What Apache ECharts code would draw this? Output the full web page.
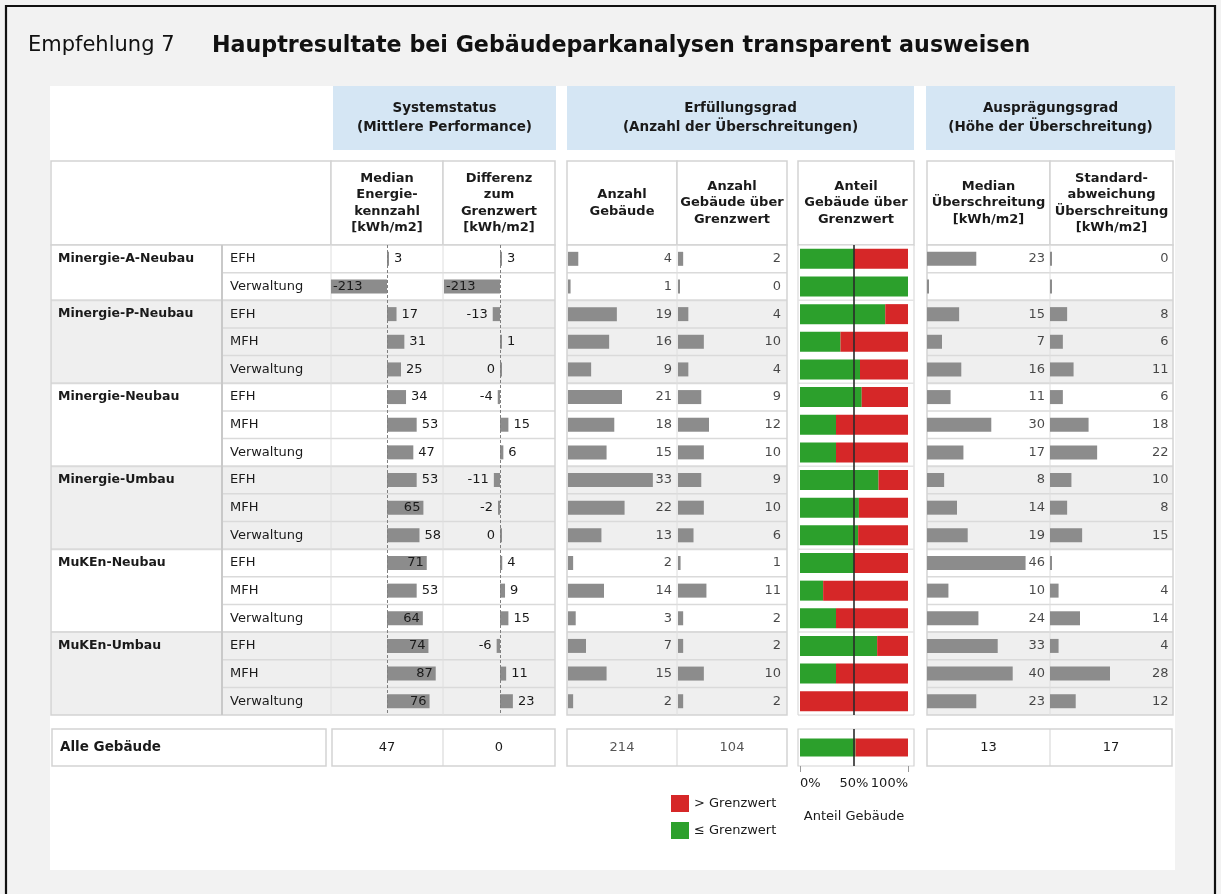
<!DOCTYPE html>
<html><head><meta charset="utf-8">
<script src="https://cdn.jsdelivr.net/npm/echarts@6/dist/echarts.min.js"></script>
<style>html,body{margin:0;padding:0;background:#f2f2f2}#c{width:1221px;height:894px}</style>
</head><body><div id="c"></div>
<script>
// ---------------- data ----------------
const groups = ['Minergie-A-Neubau','Minergie-P-Neubau','Minergie-Neubau','Minergie-Umbau','MuKEn-Neubau','MuKEn-Umbau'];
const groupSizes = [2,3,3,3,3,3];
const buildingTypes = ['EFH','Verwaltung','EFH','MFH','Verwaltung','EFH','MFH','Verwaltung','EFH','MFH','Verwaltung','EFH','MFH','Verwaltung','EFH','MFH','Verwaltung'];
const medianEnergie = [3,-213,17,31,25,34,53,47,53,65,58,71,53,64,74,87,76];
const differenz = [3,-213,-13,1,0,-4,15,6,-11,-2,0,4,9,15,-6,11,23];
const anzahlGebaeude = [4,1,19,16,9,21,18,15,33,22,13,2,14,3,7,15,2];
const anzahlUeber = [2,0,4,10,4,9,12,10,9,10,6,1,11,2,2,10,2];
const medianUeberschreitung = [23,null,15,7,16,11,30,17,8,14,19,46,10,24,33,40,23];
const stdUeberschreitung = [0,null,8,6,11,6,18,22,10,8,15,null,4,14,4,28,12];
const totalLabel = 'Alle Gebäude';
const totals = [47,0,214,104,13,17];
const shareTickValues = [0,50,100];
const legendNames = ['> Grenzwert','≤ Grenzwert'];
const titleLeft = 'Empfehlung 7';
const titleMain = 'Hauptresultate bei Gebäudeparkanalysen transparent ausweisen';
const blockTitles = ['Systemstatus\n(Mittlere Performance)','Erfüllungsgrad\n(Anzahl der Überschreitungen)','Ausprägungsgrad\n(Höhe der Überschreitung)'];
const columnTitles = ['Median\nEnergie-\nkennzahl\n[kWh/m2]','Differenz\nzum\nGrenzwert\n[kWh/m2]','Anzahl\nGebäude','Anzahl\nGebäude über\nGrenzwert','Anteil\nGebäude über\nGrenzwert','Median\nÜberschreitung\n[kWh/m2]','Standard-\nabweichung\nÜberschreitung\n[kWh/m2]'];

// ---------------- style / layout ----------------
const FONT = '"DejaVu Sans", Verdana, sans-serif';
const BAR = '#8c8c8c', GREEN = '#2ca02c', RED = '#d62728';
const BORDER = '#d3d3d3', SEP = '#dadada', TXT = '#1a1a1a';
const TOP = 245, RH = 27.65, N = buildingTypes.length, GH = N * RH;

const cols = [
  {left:331, width:112, min:-100, max:100},
  {left:444, width:112, min:-100, max:100},
  {left:568, width:108, min:0, max:42},
  {left:678, width:106, min:0, max:41},
  {left:800, width:108, min:0, max:100},
  {left:927, width:120, min:0, max:56},
  {left:1050, width:120, min:0, max:56}
];

const firstRows = []; { let a = 0; groupSizes.forEach(s => { firstRows.push(a); a += s; }); }
const groupAxisLabels = buildingTypes.map((_, i) => { const g = firstRows.indexOf(i); return g >= 0 ? groups[g] : ''; });

const shareBelow = anzahlGebaeude.map((n, i) => (n - anzahlUeber[i]) / n * 100);
const shareAbove = shareBelow.map(s => 100 - s);
const totalBelow = (totals[2] - totals[3]) / totals[2] * 100;

// ---------------- graphic (table frame & texts) ----------------
const G = [];
function rect(x,y,w,h,fill,stroke,lw,z){ G.push({type:'rect', silent:true, z:z||0, shape:{x,y,width:w,height:h}, style:{fill:fill||'none', stroke:stroke||null, lineWidth:lw||0}}); }
function line(x1,y1,x2,y2,stroke,lw){ G.push({type:'line', silent:true, z:1, shape:{x1,y1,x2,y2}, style:{stroke, lineWidth:lw}}); }
function text(x,y,t,o){ G.push({type:'text', silent:true, z:5, x, y, style:Object.assign({text:t, fill:TXT, fontSize:13, fontFamily:FONT, align:'center', verticalAlign:'middle'}, o||{})}); }

rect(6,6,1209,940,'none','#111',2.2,6);
rect(50,86,1125,784,'#ffffff');
text(28,46,titleLeft,{align:'left', fontSize:21, fill:'#111'});
text(212,46,titleMain,{align:'left', fontSize:22.2, fontWeight:'bold', fill:'#111'});

const blueBoxes = [[333,223],[567,347],[926,249]];
blueBoxes.forEach((b,i) => { rect(b[0],86,b[1],64,'#d5e6f4'); text(b[0]+b[1]/2,118,blockTitles[i],{fontWeight:'bold', fontSize:13.5, lineHeight:19}); });

const headBoxes = [[51,280],[331,112],[443,112],[567,110],[677,110],[798,116],[927,123],[1050,123]];
headBoxes.forEach((b,i) => {
  rect(b[0],161,b[1],84,'#ffffff',BORDER,1.5);
  if (i > 0) text(b[0]+b[1]/2,203,columnTitles[i-1],{fontWeight:'bold', fontSize:13, lineHeight:16.5});
});

// row backgrounds
groupSizes.forEach((s,g) => {
  const y0 = TOP + firstRows[g]*RH, h = s*RH, fill = g % 2 ? '#efefef' : '#ffffff';
  rect(51,y0,504,h,fill); rect(567,y0,220,h,fill); rect(927,y0,246,h,fill);
});
rect(798,TOP,116,GH,'#ffffff',BORDER,1);
for (let i = 1; i < N; i++) {
  const y = TOP + i*RH;
  if (firstRows.indexOf(i) >= 0) {
    line(51,y,555,y,SEP,2); line(567,y,787,y,SEP,2); line(927,y,1173,y,SEP,2); line(798,y,914,y,'#e4e4e4',1.5);
  } else {
    line(222,y,555,y,SEP,1.5); line(567,y,787,y,SEP,1.5); line(927,y,1173,y,SEP,1.5);
  }
}
rect(51,TOP,504,GH,'none',BORDER,1.5,1); rect(567,TOP,220,GH,'none',BORDER,1.5,1); rect(927,TOP,246,GH,'none',BORDER,1.5,1);
line(222,TOP,222,TOP+GH,'#c9c9c9',2);
line(331,TOP,331,TOP+GH,'#dedede',1); line(443,TOP,443,TOP+GH,'#dedede',1);
line(677,TOP,677,TOP+GH,'#dedede',1); line(1050,TOP,1050,TOP+GH,'#dedede',1);

// totals row
const TY = 729, TH = 37, TC = TY + TH/2;
rect(52,TY,274,TH,'#ffffff',BORDER,1.5); text(60,TC,totalLabel,{align:'left', fontWeight:'bold', fontSize:13.5});
rect(332,TY,223,TH,'#ffffff',BORDER,1.5); line(443,TY,443,TY+TH,BORDER,1);
rect(567,TY,220,TH,'#ffffff',BORDER,1.5); line(677,TY,677,TY+TH,BORDER,1);
rect(798,TY,116,TH,'#ffffff',BORDER,1.2);
rect(927,TY,245,TH,'#ffffff',BORDER,1.5); line(1050,TY,1050,TY+TH,BORDER,1);
const totalPos = [387,499,622,732,988.5,1111];
const totalColors = [TXT,TXT,'#555','#555',TXT,TXT];
totals.forEach((v,i) => text(totalPos[i],TC,String(v),{fill:totalColors[i]}));

// ---------------- echarts options ----------------
const labelText = {fontSize:13, color:TXT, fontFamily:FONT};
const grids = cols.map(c => ({left:c.left, top:TOP, width:c.width, height:GH, outerBoundsMode:'none'}));
grids.push({left:800, top:TY, width:108, height:TH, outerBoundsMode:'none'});

const xAxes = cols.map((c,i) => ({type:'value', gridIndex:i, min:c.min, max:c.max, show:false}));
xAxes.push({type:'value', gridIndex:7, min:0, max:100, interval:50,
  axisLine:{show:false}, splitLine:{show:false},
  axisTick:{show:true, length:6, lineStyle:{color:'#9a9a9a'}, customValues:[shareTickValues[0], shareTickValues[2]]},
  axisLabel:{margin:11, fontSize:13, color:TXT, fontFamily:FONT, formatter:'{value}%', alignMinLabel:'left', alignMaxLabel:'right', customValues:shareTickValues},
  name:'Anteil Gebäude', nameLocation:'middle', nameGap:44, nameTextStyle:{fontSize:13, color:TXT, fontFamily:FONT}});

const yAxes = cols.map((c,i) => ({type:'category', gridIndex:i, data:buildingTypes, inverse:true, show:false}));
yAxes[0] = {type:'category', gridIndex:0, position:'left', data:buildingTypes, inverse:true,
  axisLine:{show:false}, axisTick:{show:false}, splitLine:{show:false},
  axisLabel:{interval:0, align:'left', margin:101, fontSize:13, color:TXT, fontFamily:FONT}};
yAxes.push({type:'category', gridIndex:7, data:[totalLabel], show:false});
yAxes.push({type:'category', gridIndex:0, position:'left', data:groupAxisLabels, inverse:true,
  axisLine:{show:false}, axisTick:{show:false}, splitLine:{show:false},
  axisLabel:{interval:0, align:'left', margin:273, fontSize:12.5, fontWeight:'bold', color:TXT, fontFamily:FONT}});

function divLabel(v){
  let pos = 'right', dist = 5;
  if (v > 60) { pos = 'insideRight'; dist = 3; }
  else if (v < -150) { pos = 'insideLeft'; dist = 2; }
  else if (v <= 0) { pos = 'left'; }
  return {show:true, position:pos, distance:dist};
}
const zeroLine = {silent:true, symbol:['none','none'], label:{show:false}, animation:false,
  lineStyle:{type:[3,2], color:'#7f7f7f', width:1}, data:[{xAxis:0}]};

const series = [];
[[0,medianEnergie,'Median Energiekennzahl'],[1,differenz,'Differenz zum Grenzwert']].forEach(([gi,vals,name]) => {
  series.push({type:'bar', name, xAxisIndex:gi, yAxisIndex:gi, barWidth:14, barMinHeight:2, silent:true,
    itemStyle:{color:BAR}, label:Object.assign({show:true}, labelText),
    data: vals.map(v => ({value:v, label:divLabel(v)})), markLine:zeroLine});
});

function countSeries(gi, values, name, dist){
  const maxv = cols[gi].max;
  series.push({type:'bar', name, xAxisIndex:gi, yAxisIndex:gi, barWidth:14, barMinHeight:2, silent:true,
    itemStyle:{color:BAR}, data: values.map(v => v == null ? 0 : v)});
  series.push({type:'scatter', xAxisIndex:gi, yAxisIndex:gi, symbolSize:0, silent:true,
    itemStyle:{color:'rgba(0,0,0,0)'},
    label:Object.assign({show:true, position:'left', distance:dist}, labelText),
    data: values.map((v,i) => ({value:[maxv, i], label:{formatter: v == null ? '' : String(v)}}))});
}
countSeries(2, anzahlGebaeude, 'Anzahl Gebäude', 4);
countSeries(3, anzahlUeber, 'Anzahl Gebäude über Grenzwert', 3);
countSeries(5, medianUeberschreitung, 'Median Überschreitung', 2);
countSeries(6, stdUeberschreitung, 'Standardabweichung Überschreitung', 1.5);

const halfLine = {silent:true, symbol:['none','none'], label:{show:false}, animation:false,
  lineStyle:{type:'solid', color:'#2a2a2a', width:2, opacity:0.8}, data:[{xAxis:50}]};
series.push({type:'bar', name:legendNames[1], stack:'rows', xAxisIndex:4, yAxisIndex:4, barWidth:20, silent:true, itemStyle:{color:GREEN}, data:shareBelow});
series.push({type:'bar', name:legendNames[0], stack:'rows', xAxisIndex:4, yAxisIndex:4, barWidth:20, silent:true, itemStyle:{color:RED}, data:shareAbove, markLine:halfLine});
series.push({type:'bar', name:legendNames[1], stack:'all', xAxisIndex:7, yAxisIndex:7, barWidth:18, silent:true, itemStyle:{color:GREEN}, data:[totalBelow]});
series.push({type:'bar', name:legendNames[0], stack:'all', xAxisIndex:7, yAxisIndex:7, barWidth:18, silent:true, itemStyle:{color:RED}, data:[100 - totalBelow], markLine:halfLine});

const chart = echarts.init(document.getElementById('c'), null, {renderer:'canvas', width:1221, height:894});
chart.setOption({
  backgroundColor:'#f2f2f2',
  animation:false,
  textStyle:{fontFamily:FONT},
  graphic:{elements:G},
  legend:{data:legendNames, orient:'vertical', left:666, top:790, icon:'rect', itemWidth:18, itemHeight:17, itemGap:10,
    selectedMode:false, textStyle:{fontSize:13, color:TXT, fontFamily:FONT}},
  grid:grids, xAxis:xAxes, yAxis:yAxes, series
});
</script>
</body></html>
